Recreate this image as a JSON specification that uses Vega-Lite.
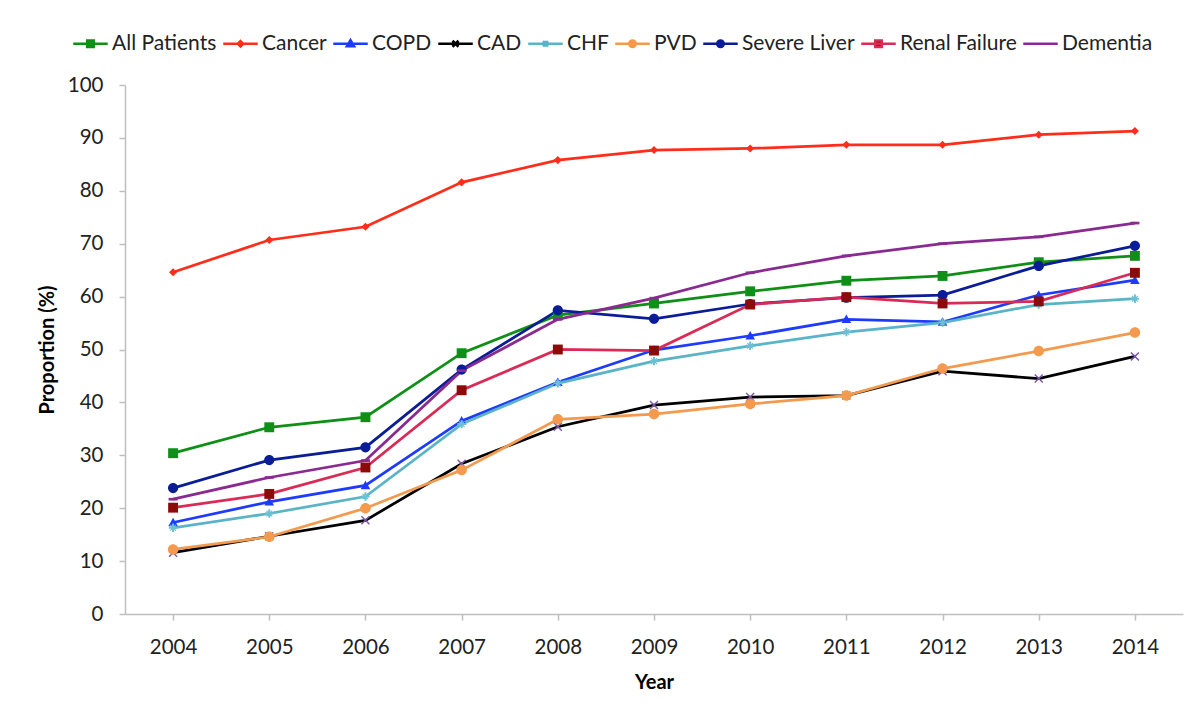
{
  "$schema": "https://vega.github.io/schema/vega-lite/v6.json",
  "width": 1058,
  "height": 529,
  "autosize": "none",
  "padding": {"left": 125, "top": 85, "right": 21, "bottom": 103},
  "background": "white",
  "config": {
    "view": {"stroke": null},
    "font": "Lato",
    "axis": {"domainColor": "#BFBFBF", "tickColor": "#BFBFBF", "domainWidth": 1.5, "tickWidth": 1.5, "labelColor": "#222222", "labelFont": "Lato", "labelFontSize": 20.5, "titleFont": "Lato", "titleFontSize": 20, "titleFontWeight": "bold", "titleColor": "#000000", "grid": false, "tickSize": 6},
    "legend": {"labelFont": "Lato", "labelFontSize": 21, "labelColor": "#222222"}
  },
  "data": {"values": [
    {"year": "2004", "series": "All Patients", "value": 30.4},
    {"year": "2005", "series": "All Patients", "value": 35.3},
    {"year": "2006", "series": "All Patients", "value": 37.2},
    {"year": "2007", "series": "All Patients", "value": 49.3},
    {"year": "2008", "series": "All Patients", "value": 56.5},
    {"year": "2009", "series": "All Patients", "value": 58.7},
    {"year": "2010", "series": "All Patients", "value": 61.0},
    {"year": "2011", "series": "All Patients", "value": 63.0},
    {"year": "2012", "series": "All Patients", "value": 63.9},
    {"year": "2013", "series": "All Patients", "value": 66.5},
    {"year": "2014", "series": "All Patients", "value": 67.7},
    {"year": "2004", "series": "Cancer", "value": 64.6},
    {"year": "2005", "series": "Cancer", "value": 70.7},
    {"year": "2006", "series": "Cancer", "value": 73.2},
    {"year": "2007", "series": "Cancer", "value": 81.6},
    {"year": "2008", "series": "Cancer", "value": 85.8},
    {"year": "2009", "series": "Cancer", "value": 87.7},
    {"year": "2010", "series": "Cancer", "value": 88.0},
    {"year": "2011", "series": "Cancer", "value": 88.7},
    {"year": "2012", "series": "Cancer", "value": 88.7},
    {"year": "2013", "series": "Cancer", "value": 90.6},
    {"year": "2014", "series": "Cancer", "value": 91.3},
    {"year": "2004", "series": "COPD", "value": 17.3},
    {"year": "2005", "series": "COPD", "value": 21.2},
    {"year": "2006", "series": "COPD", "value": 24.3},
    {"year": "2007", "series": "COPD", "value": 36.5},
    {"year": "2008", "series": "COPD", "value": 43.8},
    {"year": "2009", "series": "COPD", "value": 49.9},
    {"year": "2010", "series": "COPD", "value": 52.6},
    {"year": "2011", "series": "COPD", "value": 55.7},
    {"year": "2012", "series": "COPD", "value": 55.2},
    {"year": "2013", "series": "COPD", "value": 60.3},
    {"year": "2014", "series": "COPD", "value": 63.1},
    {"year": "2004", "series": "CAD", "value": 11.6},
    {"year": "2005", "series": "CAD", "value": 14.7},
    {"year": "2006", "series": "CAD", "value": 17.7},
    {"year": "2007", "series": "CAD", "value": 28.4},
    {"year": "2008", "series": "CAD", "value": 35.4},
    {"year": "2009", "series": "CAD", "value": 39.5},
    {"year": "2010", "series": "CAD", "value": 41.0},
    {"year": "2011", "series": "CAD", "value": 41.3},
    {"year": "2012", "series": "CAD", "value": 45.9},
    {"year": "2013", "series": "CAD", "value": 44.5},
    {"year": "2014", "series": "CAD", "value": 48.7},
    {"year": "2004", "series": "CHF", "value": 16.3},
    {"year": "2005", "series": "CHF", "value": 19.0},
    {"year": "2006", "series": "CHF", "value": 22.2},
    {"year": "2007", "series": "CHF", "value": 35.9},
    {"year": "2008", "series": "CHF", "value": 43.6},
    {"year": "2009", "series": "CHF", "value": 47.8},
    {"year": "2010", "series": "CHF", "value": 50.7},
    {"year": "2011", "series": "CHF", "value": 53.3},
    {"year": "2012", "series": "CHF", "value": 55.1},
    {"year": "2013", "series": "CHF", "value": 58.5},
    {"year": "2014", "series": "CHF", "value": 59.6},
    {"year": "2004", "series": "PVD", "value": 12.2},
    {"year": "2005", "series": "PVD", "value": 14.6},
    {"year": "2006", "series": "PVD", "value": 20.0},
    {"year": "2007", "series": "PVD", "value": 27.2},
    {"year": "2008", "series": "PVD", "value": 36.8},
    {"year": "2009", "series": "PVD", "value": 37.8},
    {"year": "2010", "series": "PVD", "value": 39.7},
    {"year": "2011", "series": "PVD", "value": 41.3},
    {"year": "2012", "series": "PVD", "value": 46.4},
    {"year": "2013", "series": "PVD", "value": 49.7},
    {"year": "2014", "series": "PVD", "value": 53.2},
    {"year": "2004", "series": "Severe Liver", "value": 23.8},
    {"year": "2005", "series": "Severe Liver", "value": 29.1},
    {"year": "2006", "series": "Severe Liver", "value": 31.5},
    {"year": "2007", "series": "Severe Liver", "value": 46.2},
    {"year": "2008", "series": "Severe Liver", "value": 57.4},
    {"year": "2009", "series": "Severe Liver", "value": 55.8},
    {"year": "2010", "series": "Severe Liver", "value": 58.6},
    {"year": "2011", "series": "Severe Liver", "value": 59.8},
    {"year": "2012", "series": "Severe Liver", "value": 60.3},
    {"year": "2013", "series": "Severe Liver", "value": 65.8},
    {"year": "2014", "series": "Severe Liver", "value": 69.6},
    {"year": "2004", "series": "Renal Failure", "value": 20.1},
    {"year": "2005", "series": "Renal Failure", "value": 22.7},
    {"year": "2006", "series": "Renal Failure", "value": 27.7},
    {"year": "2007", "series": "Renal Failure", "value": 42.3},
    {"year": "2008", "series": "Renal Failure", "value": 50.0},
    {"year": "2009", "series": "Renal Failure", "value": 49.8},
    {"year": "2010", "series": "Renal Failure", "value": 58.5},
    {"year": "2011", "series": "Renal Failure", "value": 59.9},
    {"year": "2012", "series": "Renal Failure", "value": 58.7},
    {"year": "2013", "series": "Renal Failure", "value": 59.1},
    {"year": "2014", "series": "Renal Failure", "value": 64.5},
    {"year": "2004", "series": "Dementia", "value": 21.7},
    {"year": "2005", "series": "Dementia", "value": 25.8},
    {"year": "2006", "series": "Dementia", "value": 29.0},
    {"year": "2007", "series": "Dementia", "value": 46.0},
    {"year": "2008", "series": "Dementia", "value": 55.7},
    {"year": "2009", "series": "Dementia", "value": 59.7},
    {"year": "2010", "series": "Dementia", "value": 64.5},
    {"year": "2011", "series": "Dementia", "value": 67.7},
    {"year": "2012", "series": "Dementia", "value": 70.0},
    {"year": "2013", "series": "Dementia", "value": 71.3},
    {"year": "2014", "series": "Dementia", "value": 73.9}
  ]},
  "encoding": {
    "x": {"field": "year", "type": "ordinal", "scale": {"type": "point", "padding": 0.5}, "axis": {"title": "Year", "labelAngle": 0, "labelPadding": 17, "titlePadding": 15}},
    "y": {"field": "value", "type": "quantitative", "scale": {"domain": [0, 100], "nice": false}, "axis": {"title": "Proportion (%)", "values": [0, 10, 20, 30, 40, 50, 60, 70, 80, 90, 100], "labelPadding": 16, "titlePadding": 10}}
  },
  "layer": [
    {
      "mark": {"type": "line", "strokeWidth": 2.75},
      "encoding": {
        "color": {"field": "series", "type": "nominal",
          "scale": {"domain": ["All Patients", "Cancer", "COPD", "CAD", "CHF", "PVD", "Severe Liver", "Renal Failure", "Dementia"],
                    "range": ["#0E8F16", "#FF2D1A", "#1D3BFF", "#000000", "#5AB4C8", "#F39A4E", "#0A1C96", "#DA2A56", "#8A2A90"]},
          "legend": {"title": null, "orient": "none", "direction": "horizontal", "legendX": -51, "legendY": -58, "symbolType": "stroke", "symbolSize": 900, "symbolStrokeWidth": 2.5, "labelOffset": 5, "columnPadding": 1,
            "encode": {"symbols": {"update": {
              "shape": {"signal": "['M-1.15,0H1.15M-0.22,-0.22H0.22V0.22H-0.22Z','M-1.15,0H1.15M0,-0.18L0.18,0L0,0.18L-0.18,0Z','M-1.15,0H1.15M0,-0.24L0.24,0.17H-0.24Z','M-1.15,0H1.15M-0.2,-0.2L0.2,0.2M-0.2,0.2L0.2,-0.2','M-1.15,0H1.15M0,-0.2V0.2M-0.17,-0.17L0.17,0.17M-0.17,0.17L0.17,-0.17','M-1.15,0H1.15M0.22,0A0.22,0.22 0 1,1 -0.22,0A0.22,0.22 0 1,1 0.22,0Z','M-1.15,0H1.15M0.22,0A0.22,0.22 0 1,1 -0.22,0A0.22,0.22 0 1,1 0.22,0Z','M-1.15,0H1.15M-0.22,-0.22H0.22V0.22H-0.22Z','M-1.15,0H1.15M-0.3,0H0.3'][indexof(['All Patients','Cancer','COPD','CAD','CHF','PVD','Severe Liver','Renal Failure','Dementia'], datum.value)]"},
              "fill": {"signal": "['#0E8F16','#FF2D1A','#1D3BFF','#7A55A8','#6CC0D4','#F39A4E','#0A1C96','#8C0A0A','#8A2A90'][indexof(['All Patients','Cancer','COPD','CAD','CHF','PVD','Severe Liver','Renal Failure','Dementia'], datum.value)]"},
              "strokeWidth": {"value": 2.5}
            }}}}}
      }
    },
    {
      "mark": {"type": "point", "filled": true, "size": 900, "opacity": 1},
      "encoding": {
        "color": {"field": "series", "type": "nominal",
          "scale": {"domain": ["All Patients", "Cancer", "COPD", "CAD", "CHF", "PVD", "Severe Liver", "Renal Failure", "Dementia"],
                    "range": ["#0E8F16", "#FF2D1A", "#1D3BFF", "#7A55A8", "#6CC0D4", "#F39A4E", "#0A1C96", "#8C0A0A", "#8A2A90"]},
          "legend": null},
        "shape": {"field": "series", "type": "nominal",
          "scale": {"domain": ["All Patients", "Cancer", "COPD", "CAD", "CHF", "PVD", "Severe Liver", "Renal Failure", "Dementia"],
                    "range": [
                      "M-0.33,-0.33H0.33V0.33H-0.33Z",
                      "M0,-0.27L0.27,0L0,0.27L-0.27,0Z",
                      "M0,-0.32L0.32,0.25H-0.32Z",
                      "M-0.3,-0.233L-0.233,-0.3L0,-0.067L0.233,-0.3L0.3,-0.233L0.067,0L0.3,0.233L0.233,0.3L0,0.067L-0.233,0.3L-0.3,0.233L-0.067,0Z",
                      "M-0.067,-0.28H0.067V-0.067H0.28V0.067H0.067V0.28H-0.067V0.067H-0.28V-0.067H-0.067Z M-0.22,-0.17L-0.17,-0.22L0,-0.05L0.17,-0.22L0.22,-0.17L0.05,0L0.22,0.17L0.17,0.22L0,0.05L-0.17,0.22L-0.22,0.17L-0.05,0Z",
                      "M0.35,0A0.35,0.35 0 1,1 -0.35,0A0.35,0.35 0 1,1 0.35,0Z",
                      "M0.34,0A0.34,0.34 0 1,1 -0.34,0A0.34,0.34 0 1,1 0.34,0Z",
                      "M-0.33,-0.33H0.33V0.33H-0.33Z",
                      "M-0.3,-0.09H0.3V0.09H-0.3Z"
                    ]},
          "legend": null}
      }
    }
  ],
  "resolve": {"scale": {"color": "independent"}}
}
